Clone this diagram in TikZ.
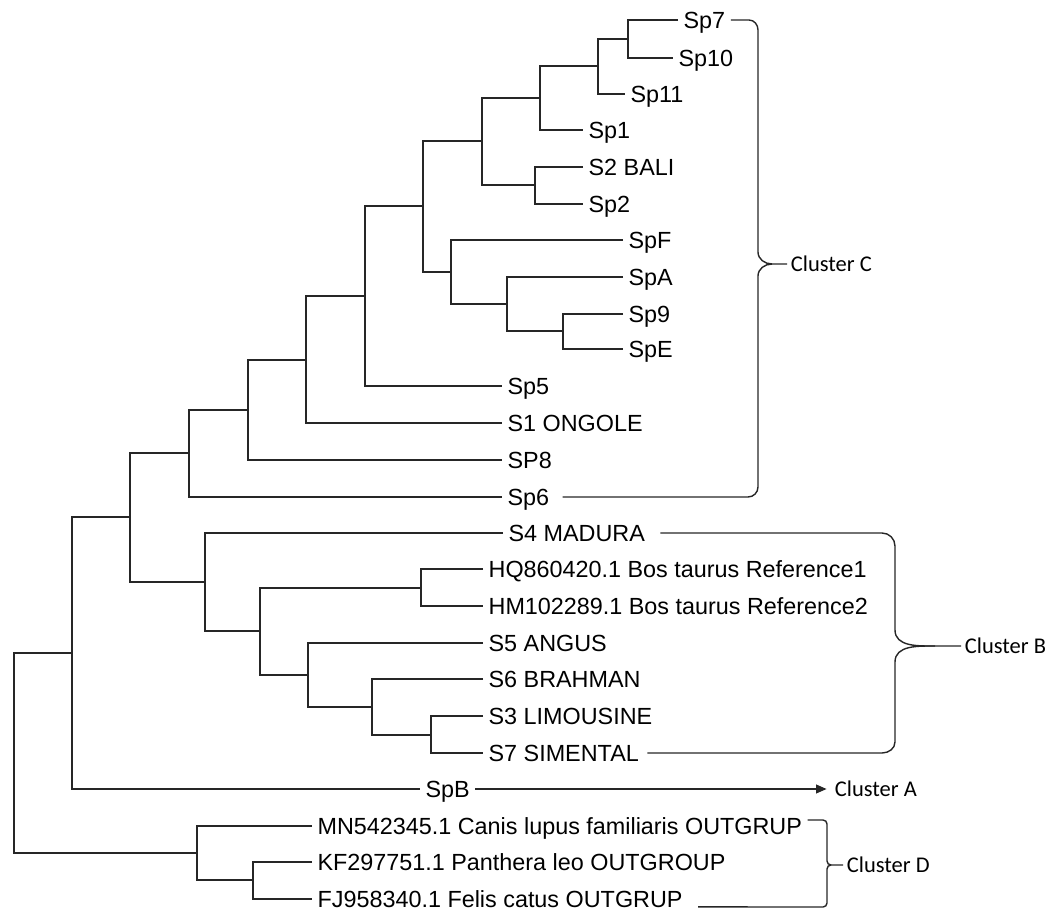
\documentclass[tikz,border=0pt]{standalone}
\usepackage{fontspec}
\setmainfont{Liberation Sans}
\newfontfamily\clusterfont{Carlito}
\usetikzlibrary{arrows.meta}

\tikzset{
  leaf/.style={anchor=west, inner sep=3pt, text height=9.5pt, text depth=0pt,
    font=\fontsize{13.3pt}{15pt}\selectfont},
  clus/.style={anchor=west, inner sep=2pt, text height=8.2pt, text depth=0pt,
    font=\clusterfont\fontsize{12.8pt}{14pt}\selectfont},
  branch/.style={line width=0.85pt, black!85},
  brace/.style={line width=0.8pt, black!85}
}

\begin{document}
\begin{tikzpicture}[x=0.02cm, y=-0.02cm]
  \useasboundingbox (0,0) rectangle (1051,912);
  % leaves
  \node[leaf] (sp7) at (678,20) {Sp7};
  \node[leaf] (sp10) at (673,58) {Sp10};
  \node[leaf] (sp11) at (625,94) {Sp11};
  \node[leaf] (sp1) at (583,130) {Sp1};
  \node[leaf] (s2) at (583,167) {S2 BALI};
  \node[leaf] (sp2) at (583,204) {Sp2};
  \node[leaf] (spF) at (623,240) {SpF};
  \node[leaf] (spA) at (623,277) {SpA};
  \node[leaf] (sp9) at (623,314) {Sp9};
  \node[leaf] (spE) at (623,349) {SpE};
  \node[leaf] (sp5) at (502,386) {Sp5};
  \node[leaf] (s1) at (502,423) {S1 ONGOLE};
  \node[leaf] (sp8) at (502,460) {SP8};
  \node[leaf] (sp6) at (502,497) {Sp6};
  \node[leaf] (s4) at (503,533) {S4 MADURA};
  \node[leaf] (hq) at (483,569) {HQ860420.1 Bos taurus Reference1};
  \node[leaf] (hm) at (483,606) {HM102289.1 Bos taurus Reference2};
  \node[leaf] (s5) at (483,643) {S5 ANGUS};
  \node[leaf] (s6) at (483,679) {S6 BRAHMAN};
  \node[leaf] (s3) at (483,716) {S3 LIMOUSINE};
  \node[leaf] (s7) at (483,753) {S7 SIMENTAL};
  \node[leaf] (spb) at (420,789) {SpB};
  \node[leaf] (mn) at (312,826) {MN542345.1 Canis lupus familiaris OUTGRUP};
  \node[leaf] (kf) at (312,862) {KF297751.1 Panthera leo OUTGROUP};
  \node[leaf] (fj) at (312,899) {FJ958340.1 Felis catus OUTGRUP};
  % cluster labels
  \node[clus] (clC) at (787,264) {Cluster C};
  \node[clus] (clB) at (961,646) {Cluster B};
  \node[clus] (clA) at (831,789) {Cluster A};
  \node[clus] (clD) at (843,865) {Cluster D};
  % inner nodes
  \coordinate (a1) at (628,39);
  \coordinate (a2) at (598,66);
  \coordinate (a3) at (540,98);
  \coordinate (a4) at (535,185);
  \coordinate (a5) at (482,141);
  \coordinate (b1) at (563,331);
  \coordinate (b2) at (507,304);
  \coordinate (b3) at (451,272);
  \coordinate (c1) at (423,206);
  \coordinate (c2) at (365,296);
  \coordinate (c3) at (306,360);
  \coordinate (c4) at (248,410);
  \coordinate (c5) at (189,453);
  \coordinate (d1) at (421,588);
  \coordinate (d2) at (431,735);
  \coordinate (d3) at (372,707);
  \coordinate (d4) at (308,675);
  \coordinate (d5) at (260,631);
  \coordinate (d6) at (205,582);
  \coordinate (e1) at (130,517);
  \coordinate (e2) at (72,653);
  \coordinate (o1) at (253,880);
  \coordinate (o2) at (197,853);
  \coordinate (root) at (14,753);
  % branches
  \draw[branch] (sp7.west) -| (a1) |- (sp10.west);
  \draw[branch] (a1) -| (a2) |- (sp11.west);
  \draw[branch] (a2) -| (a3) |- (sp1.west);
  \draw[branch] (s2.west) -| (a4) |- (sp2.west);
  \draw[branch] (a3) -| (a5) |- (a4);
  \draw[branch] (sp9.west) -| (b1) |- (spE.west);
  \draw[branch] (spA.west) -| (b2) |- (b1);
  \draw[branch] (spF.west) -| (b3) |- (b2);
  \draw[branch] (a5) -| (c1) |- (b3);
  \draw[branch] (c1) -| (c2) |- (sp5.west);
  \draw[branch] (c2) -| (c3) |- (s1.west);
  \draw[branch] (c3) -| (c4) |- (sp8.west);
  \draw[branch] (c4) -| (c5) |- (sp6.west);
  \draw[branch] (hq.west) -| (d1) |- (hm.west);
  \draw[branch] (s3.west) -| (d2) |- (s7.west);
  \draw[branch] (s6.west) -| (d3) |- (d2);
  \draw[branch] (s5.west) -| (d4) |- (d3);
  \draw[branch] (d1) -| (d5) |- (d4);
  \draw[branch] (s4.west) -| (d6) |- (d5);
  \draw[branch] (c5) -| (e1) |- (d6);
  \draw[branch] (e1) -| (e2) |- (spb.west);
  \draw[branch] (kf.west) -| (o1) |- (fj.west);
  \draw[branch] (mn.west) -| (o2) |- (o1);
  \draw[branch] (e2) -| (root) |- (o2);
  % cluster A
  \draw[branch, -{Triangle[length=6pt,width=5pt]}, shorten >=2.5pt] (spb.east) -- (clA.west);
  % cluster C
  \draw[brace] (sp7.east) -- (749,20) to[out=0,in=90] (758,30) -- (758,252)
    to[out=-90,in=180] (772,264) -- (clC.west);
  \draw[brace] (772,264) to[out=180,in=90] (758,276) -- (758,487)
    to[out=-90,in=0] (748,497) -- ([xshift=4.5pt]sp6.east);
  % cluster B
  \draw[brace] ([xshift=5.5pt]s4.east) -- (882,533) to[out=0,in=90] (895,546) -- (895,630)
    to[out=-90,in=180] (935,646) -- (clB.west);
  \draw[brace] (935,646) to[out=180,in=90] (895,662) -- (895,742)
    to[out=-90,in=0] (882,753) -- ([xshift=1.7pt]s7.east);
  % cluster D
  \draw[brace] ([yshift=3.4pt]mn.east) -- (823,820) to[out=0,in=90] (827,824) -- (827,861)
    to[out=-90,in=180] (831,865) -- (clD.west);
  \draw[brace] (831,865) to[out=180,in=90] (827,869) -- (827,903)
    to[out=-90,in=0] (823,907) -- ([xshift=5.7pt,yshift=-4.5pt]fj.east);
\end{tikzpicture}
\end{document}
